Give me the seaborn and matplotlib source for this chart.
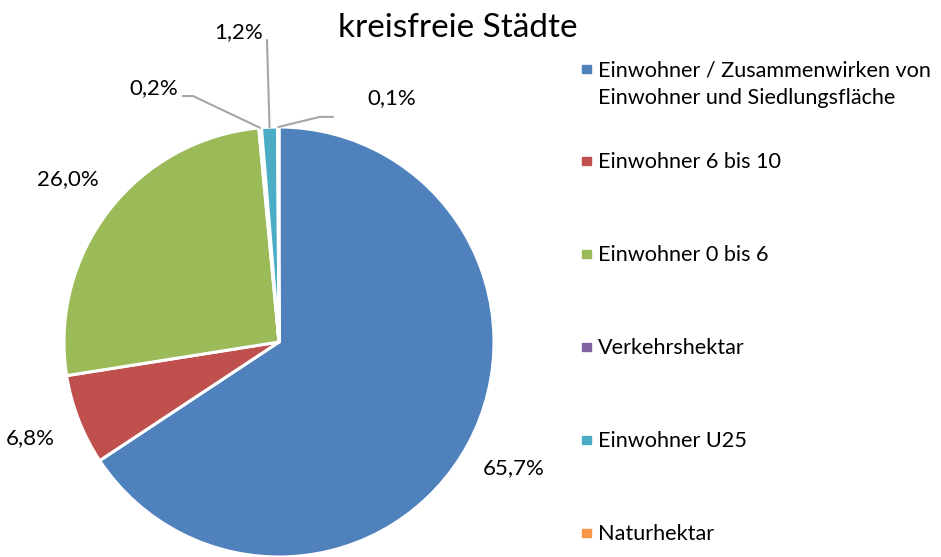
import matplotlib
matplotlib.use("Agg")
import matplotlib.pyplot as plt
import matplotlib.patches as mpatches
import seaborn as sns
import numpy as np

categories = [
    "Einwohner / Zusammenwirken von\nEinwohner und Siedlungsfläche",
    "Einwohner 6 bis 10",
    "Einwohner 0 bis 6",
    "Verkehrshektar",
    "Einwohner U25",
    "Naturhektar",
]
shares = [65.7, 6.8, 26.0, 0.2, 1.2, 0.1]
share_labels = ["65,7%", "6,8%", "26,0%", "0,2%", "1,2%", "0,1%"]
colors = ["#4F81BD", "#C0504D", "#9BBB59", "#8064A2", "#4BACC6", "#F79646"]
title = "kreisfreie Städte"

sns.set_theme(style="white")
plt.rcParams["font.family"] = ["Lato", "DejaVu Sans"]

W, H = 941, 557
fig = plt.figure(figsize=(W / 100, H / 100), dpi=100)
# pie centre ~ (279, 342) px, radius ~215 px
ax = fig.add_axes([64 / W, 0.0, 430 / W, 430 / H])
wedges, _ = ax.pie(shares, colors=colors, startangle=90, counterclock=False,
                   radius=1.0, wedgeprops=dict(edgecolor="white", linewidth=2.2))
ax.set_xlim(-1, 1)
ax.set_ylim(-1, 1)
ax.set_aspect("equal")
ax.axis("off")

lbl_size = 16
line_col = "#A6A6A6"

def mid_point(w, r=1.0):
    ang = np.deg2rad((w.theta1 + w.theta2) / 2)
    return r * np.cos(ang), r * np.sin(ang)

# large slices: labels outside along the bisector
for i in range(3):
    x, y = mid_point(wedges[i], 1.24)
    ax.text(x, y, share_labels[i], ha="center", va="center",
            fontsize=lbl_size, color="black", clip_on=False)

# small slices with leader lines
# 0,2%
ex, ey = mid_point(wedges[3])
ax.plot([-0.447, -0.40, ex], [1.144, 1.144, ey], color=line_col, lw=1.5, clip_on=False)
ax.text(-0.47, 1.18, share_labels[3], ha="right", va="center",
        fontsize=lbl_size, color="black", clip_on=False)
# 1,2%
ex, ey = mid_point(wedges[4])
ax.plot([-0.056, ex], [1.405, ey], color=line_col, lw=1.5, clip_on=False)
ax.text(-0.075, 1.44, share_labels[4], ha="right", va="center",
        fontsize=lbl_size, color="black", clip_on=False)
# 0,1%
ex, ey = mid_point(wedges[5])
ax.plot([ex, 0.19, 0.251], [ey, 1.047, 1.047], color=line_col, lw=1.5, clip_on=False)
ax.text(0.41, 1.135, share_labels[5], ha="left", va="center",
        fontsize=lbl_size, color="black", clip_on=False)

fig.text(458 / W, 1 - 28 / H, title, ha="center", va="center",
         fontsize=24, color="black")

# legend drawn by hand to match the uneven row pitch of the original
legend_rows_px = [84, 162, 255, 348, 441, 534]   # centre of each entry's text block
box = 8.5
for cat, col, ypx in zip(categories, colors, legend_rows_px):
    nlines = cat.count("\n") + 1
    sq_y = ypx - (nlines - 1) * 14 - 1
    fig.patches.append(mpatches.Rectangle((582 / W, 1 - (sq_y + box / 2) / H),
                                          box / W, box / H, color=col,
                                          transform=fig.transFigure))
    fig.text(598 / W, 1 - ypx / H, cat, ha="left", va="center",
             fontsize=15.6, color="black", linespacing=1.45,
             transform=fig.transFigure)

fig.savefig("out.png", dpi=100)
